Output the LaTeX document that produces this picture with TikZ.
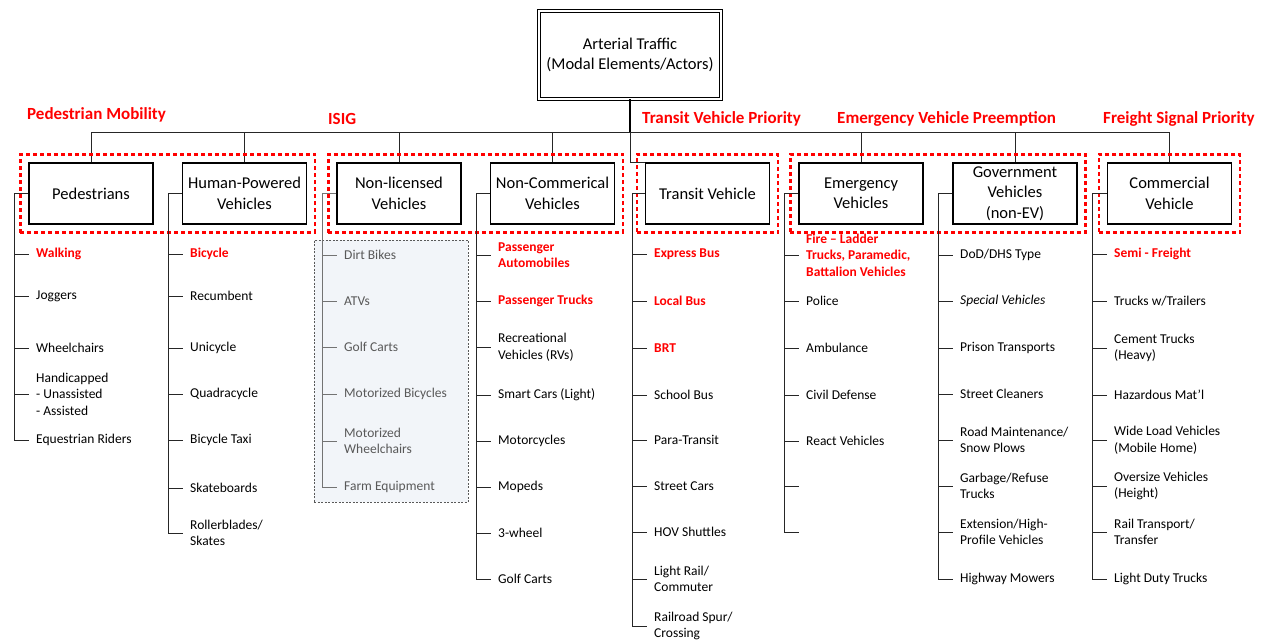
\documentclass[tikz,border=0pt]{standalone}
\usepackage{fontspec}
\setmainfont{Carlito}
\usetikzlibrary{fit}

\definecolor{sigred}{HTML}{FF0000}
\definecolor{nlgray}{HTML}{595959}
\definecolor{nlfill}{HTML}{F2F5F9}

% Listeneintrag mit Abzweig: Name, x, y, Stil, Linie, Text
\newcommand{\leaf}[6]{%
	\node[#4] (#1) at (#2,#3) {#6};
	\draw[#5] ([xshift=-22pt]#1.west) -- ([xshift=-7pt]#1.west);
}

\begin{document}
\begin{tikzpicture}[x=1pt, y=-1pt,
		root/.style={draw, double, double distance=2pt, line width=0.8pt, minimum width=182pt, minimum height=88pt, align=center, font=\fontsize{16.5}{20.5}\selectfont},
		cat/.style={draw, line width=1.1pt, minimum width=124pt, minimum height=61pt, align=center, inner sep=2pt, font=\fontsize{16.5}{20.5}\selectfont},
		grp/.style={draw=sigred, dash pattern=on 4pt off 3pt, line width=2.2pt, inner sep=8pt},
		head/.style={anchor=west, text=sigred, inner sep=0pt, font=\fontsize{17}{20}\selectfont\bfseries},
		item/.style={anchor=west, align=left, inner sep=0pt, font=\fontsize{13.5}{16.5}\selectfont},
		hot/.style={item, text=sigred, font=\fontsize{13.5}{16.5}\selectfont\bfseries},
		slant/.style={item, font=\fontsize{13.5}{16.5}\selectfont\itshape},
		dim/.style={item, text=nlgray},
		zone/.style={draw=black!65, dash pattern=on 2pt off 1.5pt, line width=0.7pt, fill=nlfill, minimum width=154pt, minimum height=262pt},
		link/.style={line width=0.9pt, draw=black!85},
		dimlink/.style={line width=0.9pt, draw=black!55},
		trunk/.style={line width=1.8pt, draw=black}
	]

	\useasboundingbox (0,0) rectangle (1267,643);

	\node[root] (root) at (630,55) {Arterial Traffic\\(Modal Elements/Actors)};
	\coordinate (bus) at (630,132);

	% Kategorien
	\node[cat] (ped) at (91,193.5) {Pedestrians};
	\node[cat] (hum) at (244.5,193.5) {Human-Powered\\Vehicles};
	\node[cat] (nl) at (399,193.5) {Non-licensed\\Vehicles};
	\node[cat] (nc) at (552.5,193.5) {Non-Commerical\\Vehicles};
	\node[cat] (tr) at (707.5,193.5) {Transit Vehicle};
	\node[cat] (em) at (861,193.5) {Emergency\\Vehicles};
	\node[cat] (gov) at (1015,193.5) {Government\\Vehicles\\(non-EV)};
	\node[cat] (com) at (1169.5,193.5) {Commercial\\Vehicle};

	\node[zone] (nlzone) at (391,371) {};

	\draw[trunk] (root.south) -- (bus);
	\foreach \b in {ped, hum, nl, nc, em, gov, com} {
			\draw[link] (\b.north) |- (bus);
		}
	\draw[link] (tr.north west) -| (bus);

	% Gruppen
	\node[grp, fit=(ped)(hum)] (pedgrp) {};
	\node[grp, fit=(nl)(nc)] (isiggrp) {};
	\node[grp, fit=(tr)] (trgrp) {};
	\node[grp, fit=(em)(gov)] (emgrp) {};
	\node[grp, fit=(com)] (comgrp) {};

	\node[head] (pedhead) at (27,115) {Pedestrian Mobility};
	\node[head] (isighead) at (328,119) {ISIG};
	\node[head] (trhead) at (642,119) {Transit Vehicle Priority};
	\node[head] (emhead) at (837,119) {Emergency Vehicle Preemption};
	\node[head] (comhead) at (1103,119) {Freight Signal Priority};

	% Pedestrians
	\leaf{ped-1}{36}{254}{hot}{link}{Walking}
	\leaf{ped-2}{36}{296}{item}{link}{Joggers}
	\leaf{ped-3}{36}{348}{item}{link}{Wheelchairs}
	\leaf{ped-4}{36}{394}{item}{link}{Handicapped\\- Unassisted\\- Assisted}
	\leaf{ped-5}{36}{440}{item}{link}{Equestrian Riders}
	\draw[link] (ped.west) -| ([xshift=-22pt]ped-5.west);

	% Human-Powered
	\leaf{hum-1}{190}{254}{hot}{link}{Bicycle}
	\leaf{hum-2}{190}{296}{item}{link}{Recumbent}
	\leaf{hum-3}{190}{348}{item}{link}{Unicycle}
	\leaf{hum-4}{190}{394}{item}{link}{Quadracycle}
	\leaf{hum-5}{190}{440}{item}{link}{Bicycle Taxi}
	\leaf{hum-6}{190}{488}{item}{link}{Skateboards}
	\leaf{hum-7}{190}{533}{item}{link}{Rollerblades/\\Skates}
	\draw[link] (hum.west) -| ([xshift=-22pt]hum-7.west);

	% Non-licensed
	\leaf{nl-1}{344}{255}{dim}{dimlink}{Dirt Bikes}
	\leaf{nl-2}{344}{301}{dim}{dimlink}{ATVs}
	\leaf{nl-3}{344}{347}{dim}{dimlink}{Golf Carts}
	\leaf{nl-4}{344}{394}{dim}{dimlink}{Motorized Bicycles}
	\leaf{nl-5}{344}{441}{dim}{dimlink}{Motorized\\Wheelchairs}
	\leaf{nl-6}{344}{487}{dim}{dimlink}{Farm Equipment}
	\draw[dimlink] (nl.west) -| ([xshift=-22pt]nl-6.west);

	% Non-Commerical
	\leaf{nc-1}{498}{255}{hot}{link}{Passenger\\Automobiles}
	\leaf{nc-2}{498}{301}{hot}{link}{Passenger Trucks}
	\leaf{nc-3}{498}{347}{item}{link}{Recreational\\Vehicles (RVs)}
	\leaf{nc-4}{498}{395}{item}{link}{Smart Cars (Light)}
	\leaf{nc-5}{498}{441}{item}{link}{Motorcycles}
	\leaf{nc-6}{498}{487}{item}{link}{Mopeds}
	\leaf{nc-7}{498}{533}{item}{link}{3-wheel}
	\leaf{nc-8}{498}{579}{item}{link}{Golf Carts}
	\draw[link] (nc.west) -| ([xshift=-22pt]nc-8.west);

	% Transit
	\leaf{tr-1}{654}{254}{hot}{link}{Express Bus}
	\leaf{tr-2}{654}{301}{hot}{link}{Local Bus}
	\leaf{tr-3}{654}{348}{hot}{link}{BRT}
	\leaf{tr-4}{654}{395}{item}{link}{School Bus}
	\leaf{tr-5}{654}{440}{item}{link}{Para-Transit}
	\leaf{tr-6}{654}{486}{item}{link}{Street Cars}
	\leaf{tr-7}{654}{532}{item}{link}{HOV Shuttles}
	\leaf{tr-8}{654}{579}{item}{link}{Light Rail/\\Commuter}
	\leaf{tr-9}{654}{626}{item}{link}{Railroad Spur/\\Crossing}
	\draw[link] (tr.west) -| ([xshift=-22pt]tr-9.west);

	% Emergency
	\leaf{em-1}{806}{255}{hot}{link}{Fire -- Ladder\\Trucks, Paramedic,\\Battalion Vehicles}
	\leaf{em-2}{806}{301}{item}{link}{Police}
	\leaf{em-3}{806}{348}{item}{link}{Ambulance}
	\leaf{em-4}{806}{395}{item}{link}{Civil Defense}
	\leaf{em-5}{806}{441}{item}{link}{React Vehicles}
	\leaf{em-6}{806}{486}{item}{link}{}
	\leaf{em-7}{806}{532}{item}{link}{}
	\draw[link] (em.west) -| ([xshift=-22pt]em-7.west);

	% Government
	\leaf{gov-1}{960}{255}{item}{link}{DoD/DHS Type}
	\leaf{gov-2}{960}{301}{slant}{link}{Special Vehicles}
	\leaf{gov-3}{960}{348}{item}{link}{Prison Transports}
	\leaf{gov-4}{960}{394}{item}{link}{Street Cleaners}
	\leaf{gov-5}{960}{440}{item}{link}{Road Maintenance/\\Snow Plows}
	\leaf{gov-6}{960}{486}{item}{link}{Garbage/Refuse\\Trucks}
	\leaf{gov-7}{960}{532}{item}{link}{Extension/High-\\Profile Vehicles}
	\leaf{gov-8}{960}{579}{item}{link}{Highway Mowers}
	\draw[link] (gov.west) -| ([xshift=-22pt]gov-8.west);

	% Commercial
	\leaf{com-1}{1114}{254}{hot}{link}{Semi - Freight}
	\leaf{com-2}{1114}{301}{item}{link}{Trucks w/Trailers}
	\leaf{com-3}{1114}{348}{item}{link}{Cement Trucks\\(Heavy)}
	\leaf{com-4}{1114}{395}{item}{link}{Hazardous Mat'l}
	\leaf{com-5}{1114}{440}{item}{link}{Wide Load Vehicles\\(Mobile Home)}
	\leaf{com-6}{1114}{486}{item}{link}{Oversize Vehicles\\(Height)}
	\leaf{com-7}{1114}{532}{item}{link}{Rail Transport/\\Transfer}
	\leaf{com-8}{1114}{579}{item}{link}{Light Duty Trucks}
	\draw[link] (com.west) -| ([xshift=-22pt]com-8.west);

\end{tikzpicture}
\end{document}
